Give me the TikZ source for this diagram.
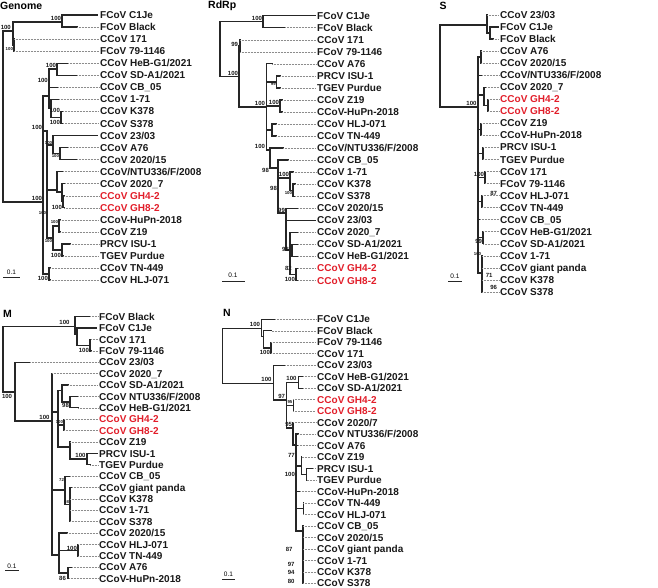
\documentclass[tikz,border=0pt]{standalone}
\usepackage{fontspec}
\setmainfont{Liberation Sans}
\definecolor{gred}{RGB}{226,30,42}
\tikzset{
 br/.style={line width=1.3pt, draw=black!85, line cap=rect},
 ld/.style={draw=black!45, line width=0.45pt, dash pattern=on 0.5pt off 1pt},
 tip/.style={anchor=west, inner sep=0pt, text height=7.2pt, text depth=0pt, font=\bfseries\fontsize{10}{10}\selectfont, text=black!90},
 bs/.style={inner sep=0.3pt, font=\bfseries\fontsize{6}{6}\selectfont, text=black!90},
 bt/.style={inner sep=0.2pt, font=\bfseries\fontsize{4.3}{4.3}\selectfont, text=black!90},
 ttl/.style={anchor=west, inner sep=0pt, font=\bfseries\fontsize{10.5}{10.5}\selectfont},
 sclab/.style={inner sep=0pt, font=\fontsize{6.5}{6.5}\selectfont},
 scl/.style={draw=black!85, line width=0.9pt}
}
\newcommand\BV[3]{\draw[br] (#1,#2) -- (#1,#3);}
\newcommand\BH[3]{\draw[br] (#1,#3) -- (#2,#3);}
\newcommand\Tip[4]{\node[tip] (#1) at (\LX,#3) {#4}; \draw[ld] (#2,#3) -- ([xshift=-1.2pt]#1.west);}
\newcommand\TipR[4]{\node[tip,text=gred] (#1) at (\LX,#3) {#4}; \draw[ld] (#2,#3) -- ([xshift=-1.2pt]#1.west);}
\newcommand\TipS[3]{\node[tip] (#1) at (\LX,#2) {#3};}
\newcommand\BS[4]{\node[bs,anchor=#1] at (#2,#3) {#4};}
\newcommand\BT[4]{\node[bt,anchor=#1] at (#2,#3) {#4};}
\begin{document}
\begin{tikzpicture}[x=1pt,y=-1pt]
\useasboundingbox[fill=white] (0,0) rectangle (658,588);
% ================= GENOME =================
\node[ttl] (tg) at (0,5.5) {Genome};
\def\LX{100}
\BV{3}{31}{202}
\BH{3}{13}{31} \BS{south west}{0.3}{30.3}{100}
\BV{13}{22}{45}
\BH{13}{62}{22} \BS{south east}{61.5}{21.5}{100}
\BV{62}{15}{27.05}
\BH{62}{97}{15} \TipS{g1}{15}{FCoV C1Je}
\BH{62}{77}{27.05} \Tip{g2}{77}{27.05}{FCoV Black}
\BH{13}{14}{45} \BV{14}{39.1}{51.15} \BT{east}{13.3}{49}{100}
\Tip{g3}{14}{39.1}{CCoV 171}
\Tip{g4}{14}{51.15}{FCoV 79-1146}
\BH{3}{43}{202} \BS{south east}{42.5}{201.5}{100}
\BV{43}{96}{274}
\BH{43}{49}{96} \BS{east}{48.3}{80}{100}
\BV{49}{69}{108}
\BH{49}{57}{69} \BS{south east}{56.5}{68.5}{100}
\BV{57}{63.2}{75.25}
\BH{57}{68}{63.2} \Tip{g5}{68}{63.2}{CCoV HeB-G1/2021}
\BH{57}{77}{75.25} \Tip{g6}{77}{75.25}{CCoV SD-A1/2021}
\BH{49}{58}{87.3} \Tip{g7}{58}{87.3}{CCoV CB\_05}
\BH{49}{51}{108} \BV{51}{99.35}{117.4}
\BH{51}{59}{99.35} \Tip{g8}{59}{99.35}{CCoV 1-71}
\BH{51}{61}{117.4} \BV{61}{111.4}{123.45}
\BS{east}{60.4}{110.5}{100} \BS{east}{60.4}{122.5}{100}
\BH{61}{63}{111.4} \Tip{g9}{63}{111.4}{CCoV K378}
\BH{61}{63}{123.45} \Tip{g10}{63}{123.45}{CCoV S378}
\BH{43}{47}{131} \BS{south east}{42.5}{130.5}{100}
\BV{47}{131}{238}
\BH{47}{53}{145} \BT{south east}{52.5}{144.5}{100}
\BV{53}{135.5}{153.6}
\BH{53}{97}{135.5} \TipS{g11}{135.5}{CCoV 23/03}
\BH{53}{60}{153.6} \BV{60}{147.55}{159.6} \BT{east}{59.4}{156}{100}
\BH{60}{68}{147.55} \Tip{g12}{68}{147.55}{CCoV A76}
\BH{60}{77}{159.6} \Tip{g13}{77}{159.6}{CCoV 2020/15}
\BH{47}{57}{190}
\BV{57}{171.65}{192}
\BH{57}{63}{171.65} \Tip{g14}{63}{171.65}{CCoV/NTU336/F/2008}
\BH{57}{62}{192} \BV{62}{183.7}{201.8}
\BH{62}{65}{183.7} \Tip{g15}{65}{183.7}{CCoV 2020\_7}
\BH{62}{63}{201.8} \BV{63}{195.75}{207.8} \BS{east}{62.4}{207.5}{100}
\BH{63}{64}{195.75} \TipR{g16}{64}{195.75}{CCoV GH4-2}
\BH{63}{64}{207.8} \TipR{g17}{64}{207.8}{CCoV GH8-2}
\BT{east}{46.5}{213.5}{100}
\BH{47}{53}{238} \BV{53}{225.9}{250} \BT{east}{52.4}{241}{100}
\BH{53}{59}{225.9} \BV{59}{219.85}{231.9} \BT{east}{58.4}{222.5}{100}
\BH{59}{60}{219.85} \Tip{g18}{60}{219.85}{CCoV-HuPn-2018}
\BH{59}{60}{231.9} \Tip{g19}{60}{231.9}{CCoV Z19}
\BH{53}{62}{250} \BV{62}{243.95}{256} \BS{east}{61.4}{255}{100}
\BH{62}{70}{243.95} \Tip{g20}{70}{243.95}{PRCV ISU-1}
\BH{62}{63}{256} \Tip{g21}{63}{256}{TGEV Purdue}
\BH{43}{49}{274} \BV{49}{268.05}{280.1} \BS{east}{48.4}{278}{100}
\BH{49}{50}{268.05} \Tip{g22}{50}{268.05}{CCoV TN-449}
\BH{49}{50}{280.1} \Tip{g23}{50}{280.1}{CCoV HLJ-071}
\node[sclab] (gsc) at (11.5,272.5) {0.1}; \draw[scl] (3,277) -- (20,277);
% ================= RdRp =================
\node[ttl] (tr) at (208,5.5) {RdRp};
\def\LX{317}
\BV{220}{21.7}{76.7}
\BH{220}{263}{21.7} \BS{south east}{262.5}{21.2}{100}
\BV{263}{15.7}{27.7}
\BH{263}{315}{15.7} \TipS{r1}{15.7}{FCoV C1Je}
\BH{263}{285}{27.7} \Tip{r2}{285}{27.7}{FCoV Black}
\BH{220}{239}{76.7} \BS{south east}{238.5}{76.2}{100}
\BV{239}{45.8}{107}
\BH{239}{240}{45.8} \BV{240}{39.8}{51.8} \BS{east}{238.5}{44.5}{99}
\Tip{r3}{240}{39.8}{CCoV 171}
\Tip{r4}{240}{51.8}{FCoV 79-1146}
\BH{239}{266.7}{107} \BS{south east}{265.5}{106.5}{100}
\BV{266.7}{63.8}{150}
\BH{266.7}{272}{63.8} \Tip{r5}{272}{63.8}{CCoV A76}
\BH{266.7}{276.7}{81.9} \BV{276.7}{75.9}{87.9} \BT{east}{276.1}{84.5}{99}
\BH{276.7}{280}{75.9} \Tip{r6}{280}{75.9}{PRCV ISU-1}
\BH{276.7}{280}{87.9} \Tip{r7}{280}{87.9}{TGEV Purdue}
\BH{266.7}{280}{105.9} \BV{280}{99.9}{111.9} \BS{south east}{279.5}{105.4}{100}
\BH{280}{282}{99.9} \Tip{r8}{282}{99.9}{CCoV Z19}
\BH{280}{282}{111.9} \Tip{r9}{282}{111.9}{CCoV-HuPn-2018}
\BH{266.7}{272}{130} \BV{272}{124}{136}
\BH{272}{276}{124} \Tip{r10}{276}{124}{CCoV HLJ-071}
\BH{272}{276}{136} \Tip{r11}{276}{136}{CCoV TN-449}
\BH{266.7}{270}{150} \BS{south east}{265.5}{149.5}{100}
\BV{270}{148}{168}
\BH{270}{283}{148} \Tip{r12}{283}{148}{CCoV/NTU336/F/2008}
\BH{270}{278}{168} \BS{east}{269.4}{170.5}{98}
\BV{278}{160.1}{213} \BS{east}{277.4}{188}{98}
\BH{278}{288}{160.1} \Tip{r13}{288}{160.1}{CCoV CB\_05}
\BH{278}{290}{178} \BV{290}{172.1}{190.2} \BS{south east}{289.5}{177.5}{100}
\BH{290}{293}{172.1} \Tip{r14}{293}{172.1}{CCoV 1-71}
\BH{290}{293}{190.2} \BV{293}{184.1}{196.2} \BT{east}{292.4}{193}{100}
\BH{293}{295}{184.1} \Tip{r15}{295}{184.1}{CCoV K378}
\BH{293}{295}{196.2} \Tip{r16}{295}{196.2}{CCoV S378}
\BH{278}{286}{213} \BS{east}{285.4}{210.5}{99}
\BV{286}{208.2}{250}
\BH{286}{298}{208.2} \Tip{r17}{298}{208.2}{CCoV 2020/15}
\BH{286}{315}{220.2} \TipS{r18}{220.2}{CCoV 23/03}
\BH{286}{290}{250} \BS{east}{289.4}{249.5}{96}
\BV{290}{232.2}{274.3}
\BH{290}{298}{232.2} \Tip{r19}{298}{232.2}{CCoV 2020\_7}
\BH{290}{292}{250.3} \BV{292}{244.3}{256.3}
\BH{292}{298}{244.3} \Tip{r20}{298}{244.3}{CCoV SD-A1/2021}
\BH{292}{298}{256.3} \Tip{r21}{298}{256.3}{CCoV HeB-G1/2021}
\BH{290}{296}{274.3} \BV{296}{268.3}{280.4}
\BS{east}{292.3}{268.8}{82} \BS{east}{295.4}{279.3}{100}
\BH{296}{298}{268.3} \TipR{r22}{298}{268.3}{CCoV GH4-2}
\BH{296}{298}{280.4} \TipR{r23}{298}{280.4}{CCoV GH8-2}
\node[sclab] (rsc) at (233,275) {0.1}; \draw[scl] (222,281) -- (245,281);
% ================= S =================
\node[ttl] (ts) at (439.5,5.5) {S};
\def\LX{500}
\BV{440}{25}{107}
\BH{440}{487}{25}
\BV{487}{15}{33}
\Tip{s1}{487}{15}{CCoV 23/03}
\BH{487}{490}{33} \BV{490}{27}{39.1}
\BH{490}{498}{27} \TipS{s2}{27}{FCoV C1Je}
\BH{490}{493}{39.1} \Tip{s3}{493}{39.1}{FCoV Black}
\BH{440}{478}{107} \BS{south east}{477}{106.5}{100}
\BV{478}{57}{273}
\BH{478}{481}{57} \BV{481}{51.1}{63.2}
\Tip{s4}{481}{51.1}{CCoV A76}
\Tip{s5}{481}{63.2}{CCoV 2020/15}
\BH{478}{482}{75.2} \Tip{s6}{482}{75.2}{CCoV/NTU336/F/2008}
\BH{478}{484}{95} \BV{484}{87.2}{105.3}
\BH{484}{486}{87.2} \Tip{s7}{486}{87.2}{CCoV 2020\_7}
\BH{484}{488}{105.3} \BV{488}{99.3}{111.3}
\TipR{s8}{488}{99.3}{CCoV GH4-2}
\TipR{s9}{488}{111.3}{CCoV GH8-2}
\BH{478}{481}{129.4} \BV{481}{123.4}{135.4}
\Tip{s10}{481}{123.4}{CCoV Z19}
\Tip{s11}{481}{135.4}{CCoV-HuPn-2018}
\BH{478}{483}{153.4} \BV{483}{147.4}{159.5}
\Tip{s12}{483}{147.4}{PRCV ISU-1}
\Tip{s13}{483}{159.5}{TGEV Purdue}
\BH{478}{485}{177.5} \BV{485}{171.5}{183.6} \BS{south east}{484.5}{177}{100}
\Tip{s14}{485}{171.5}{CCoV 171}
\Tip{s15}{485}{183.6}{FCoV 79-1146}
\BH{478}{482}{201.6} \BV{482}{195.6}{207.6} \BS{east}{497.5}{193}{87}
\Tip{s16}{482}{195.6}{CCoV HLJ-071}
\Tip{s17}{482}{207.6}{CCoV TN-449}
\BH{478}{480}{219.7} \Tip{s18}{480}{219.7}{CCoV CB\_05}
\BH{478}{483}{237.7} \BV{483}{231.7}{243.8} \BS{east}{482.5}{241}{99}
\Tip{s19}{483}{231.7}{CCoV HeB-G1/2021}
\Tip{s20}{483}{243.8}{CCoV SD-A1/2021}
\BH{478}{482}{273} \BV{482}{255.8}{291.9}
\BT{east}{481.5}{254}{100} \BS{east}{493}{275}{71} \BS{east}{497.5}{287}{96}
\Tip{s21}{482}{255.8}{CCoV 1-71}
\Tip{s22}{482}{267.8}{CCoV giant panda}
\Tip{s23}{482}{279.9}{CCoV K378}
\Tip{s24}{482}{291.9}{CCoV S378}
\node[sclab] (ssc) at (455,276) {0.1}; \draw[scl] (448,281) -- (462,281);
% ================= M =================
\node[ttl] (tm) at (3,314) {M};
\def\LX{99}
\BV{3}{326.7}{392}
\BH{3}{75}{326.7} \BS{south east}{70}{325.5}{100}
\BV{75}{316.7}{334}
\BH{75}{90}{316.7} \Tip{m1}{90}{316.7}{FCoV Black}
\BH{75}{77}{334} \BV{77}{328.1}{345.2}
\BH{77}{96}{328.1} \TipS{m2}{328.1}{FCoV C1Je}
\BH{77}{90}{345.2} \BV{90}{339.5}{350.9} \BS{east}{89.4}{350}{100}
\BH{90}{91}{339.5} \Tip{m3}{91}{339.5}{CCoV 171}
\BH{90}{91}{350.9} \Tip{m4}{91}{350.9}{FCoV 79-1146}
\BH{3}{15}{392} \BS{north west}{1.5}{393.5}{100}
\BV{15}{362.3}{421}
\BH{15}{30}{362.3} \Tip{m5}{30}{362.3}{CCoV 23/03}
\BH{15}{52}{421} \BS{south east}{50}{420.5}{100}
\BV{52}{373.7}{555}
\Tip{m6}{52}{373.7}{CCoV 2020\_7}
\BH{52}{58}{412} \BV{58}{390.7}{447}
\BH{58}{62}{390.7} \BV{62}{385}{402.1}
\BH{62}{68}{385} \Tip{m7}{68}{385}{CCoV SD-A1/2021}
\BH{62}{70}{402.1} \BV{70}{396.4}{407.8} \BS{east}{69.4}{405}{98}
\BH{70}{78}{396.4} \Tip{m8}{78}{396.4}{CCoV NTU336/F/2008}
\BH{70}{78}{407.8} \Tip{m9}{78}{407.8}{CCoV HeB-G1/2021}
\BH{58}{64}{424.9} \BV{64}{419.2}{430.6} \BT{east}{63.4}{422}{100}
\TipR{m10}{64}{419.2}{CCoV GH4-2}
\TipR{m11}{64}{430.6}{CCoV GH8-2}
\BH{58}{70}{447} \BV{70}{442}{459.1}
\Tip{m12}{70}{442}{CCoV Z19}
\BH{70}{87}{459.1} \BV{87}{453.4}{464.8} \BS{south east}{86}{458.5}{100}
\BH{87}{97}{453.4} \TipS{m13}{453.4}{PRCV ISU-1}
\BH{87}{90}{464.8} \Tip{m14}{90}{464.8}{TGEV Purdue}
\BH{52}{65}{490} \BV{65}{476.2}{504.5} \BT{east}{64.4}{480}{72}
\BH{65}{70}{476.2} \Tip{m15}{70}{476.2}{CCoV CB\_05}
\BH{65}{70}{504.5} \BV{70}{487.6}{521.7} \BT{east}{69.4}{502}{98}
\BH{70}{72}{487.6} \Tip{m16}{72}{487.6}{CCoV giant panda}
\Tip{m17}{70}{499}{CCoV K378}
\Tip{m18}{70}{510.3}{CCoV 1-71}
\Tip{m19}{70}{521.7}{CCoV S378}
\BH{52}{59}{555} \BV{59}{533.1}{573}
\BH{59}{67}{533.1} \Tip{m20}{67}{533.1}{CCoV 2020/15}
\BH{59}{78}{550.2} \BV{78}{544.5}{555.9} \BS{east}{77.4}{548}{100}
\Tip{m21}{78}{544.5}{CCoV HLJ-071}
\Tip{m22}{78}{555.9}{CCoV TN-449}
\BH{59}{68}{573} \BV{68}{567.3}{578.7} \BS{east}{66.4}{578}{86}
\BH{68}{72}{567.3} \Tip{m23}{72}{567.3}{CCoV A76}
\BH{68}{69}{578.7} \Tip{m24}{69}{578.7}{CCoV-HuPn-2018}
\node[sclab] (msc) at (12,566) {0.1}; \draw[scl] (5,570.5) -- (19,570.5);
% ================= N =================
\node[ttl] (tn) at (223,313) {N};
\def\LX{317}
\BV{222.7}{328.3}{383.3}
\BH{222.7}{261.7}{328.3} \BS{south east}{260.5}{327.5}{100}
\BV{261.7}{319.3}{336.5}
\BH{261.7}{275}{319.3} \Tip{n1}{275}{319.3}{FCoV C1Je}
\BH{261.7}{263.5}{336.5} \BV{263.5}{330.8}{348}
\BH{263.5}{271.7}{330.8} \Tip{n2}{271.7}{330.8}{FCoV Black}
\BH{263.5}{271}{348} \BV{271}{342.3}{353.7} \BS{east}{270.4}{352}{100}
\Tip{n3}{271}{342.3}{FCoV 79-1146}
\Tip{n4}{271}{353.7}{CCoV 171}
\BH{222.7}{273.3}{383.3} \BS{south east}{272}{382.5}{100}
\BV{273.3}{365.2}{400}
\BH{273.3}{285}{365.2} \Tip{n5}{285}{365.2}{CCoV 23/03}
\BH{273.3}{286.7}{400} \BS{south east}{285.5}{399.5}{97}
\BV{286.7}{382.5}{428}
\BH{286.7}{298.3}{382.5} \BS{south east}{297}{381.5}{100}
\BV{298.3}{376.7}{388.2}
\BH{298.3}{303}{376.7} \Tip{n6}{303}{376.7}{CCoV HeB-G1/2021}
\BH{298.3}{303}{388.2} \Tip{n7}{303}{388.2}{CCoV SD-A1/2021}
\BH{286.7}{293.3}{405.4} \BV{293.3}{399.7}{411.1} \BT{east}{292.7}{402}{95}
\TipR{n8}{293.3}{399.7}{CCoV GH4-2}
\TipR{n9}{293.3}{411.1}{CCoV GH8-2}
\BH{286.7}{293}{428} \BS{south east}{292.5}{427.5}{95}
\BV{293}{422.6}{445}
\Tip{n10}{293}{422.6}{CCoV 2020/7}
\BH{293}{296}{445}
\draw[br,line width=1.8pt] (296,434.1) -- (296,531);
\BH{296}{298}{434.1} \Tip{n11}{298}{434.1}{CCoV NTU336/F/2008}
\BH{296}{298}{445.6} \Tip{n12}{298}{445.6}{CCoV A76}
\BH{296}{301.7}{466} \BV{301.7}{457.1}{474.3} \BS{east}{295.2}{455.5}{77}
\Tip{n13}{301.7}{457.1}{CCoV Z19}
\BH{301.7}{306.7}{474.3} \BV{306.7}{468.5}{480} \BS{east}{295.4}{474.5}{100}
\BH{306.7}{313.3}{468.5} \Tip{n14}{313.3}{468.5}{PRCV ISU-1}
\Tip{n15}{306.7}{480}{TGEV Purdue}
\BH{296}{300}{491.5} \Tip{n16}{300}{491.5}{CCoV-HuPn-2018}
\BH{296}{303.3}{508.7} \BV{303.3}{503}{514.5}
\Tip{n17}{303.3}{503}{CCoV TN-449}
\Tip{n18}{303.3}{514.5}{CCoV HLJ-071}
\BH{296}{303.3}{531}
\draw[br,line width=1.8pt] (303.3,525.9) -- (303.3,583.3);
\Tip{n19}{303.3}{525.9}{CCoV CB\_05}
\Tip{n20}{303.3}{537.4}{CCoV 2020/15}
\BS{east}{293}{549.5}{87}
\Tip{n21}{303.3}{548.9}{CCoV giant panda}
\BS{east}{295}{564}{97} \BS{east}{295}{572}{94} \BS{east}{295}{581}{80}
\Tip{n22}{303.3}{560.4}{CCoV 1-71}
\Tip{n23}{303.3}{571.9}{CCoV K378}
\Tip{n24}{303.3}{583.3}{CCoV S378}
\node[sclab] (nsc) at (228.5,574.5) {0.1}; \draw[scl] (222,579) -- (235,579);
\end{tikzpicture}
\end{document}
